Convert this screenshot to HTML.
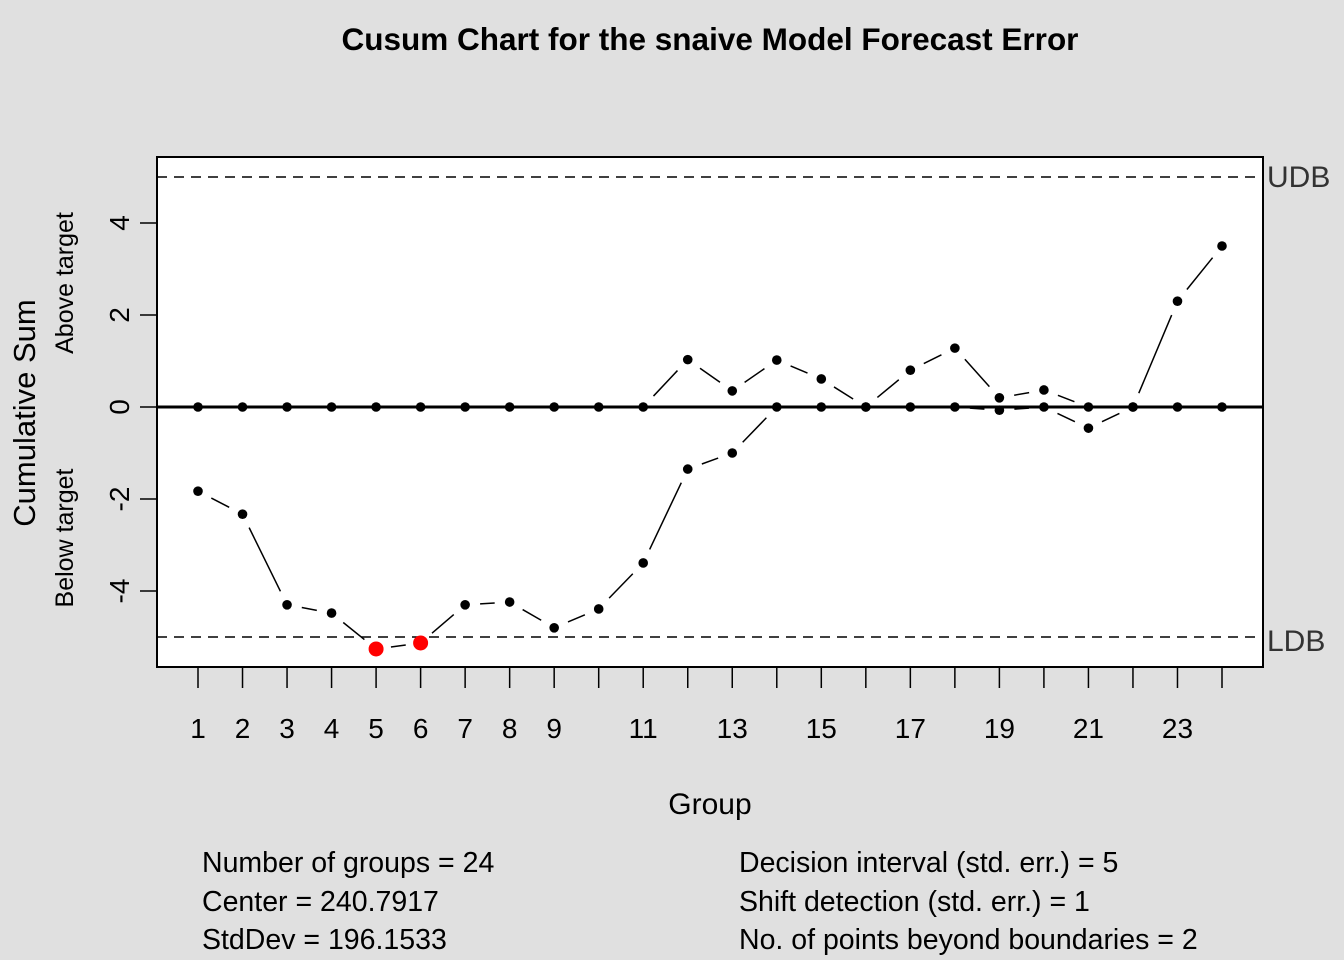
<!DOCTYPE html>
<html><head><meta charset="utf-8"><style>
body{margin:0;background:#e0e0e0;}
svg{display:block;font-family:"Liberation Sans",Arial,sans-serif;}
</style></head><body>
<svg id="chart" width="1344" height="960" viewBox="0 0 1344 960">
<rect width="1344" height="960" fill="#e0e0e0"/>
<text x="710" y="50" text-anchor="middle" font-size="31.5" font-weight="bold">Cusum Chart for the snaive Model Forecast Error</text>
<rect x="157" y="157" width="1106" height="510" fill="#fff" stroke="#000" stroke-width="2"/>
<g id="marks"></g>
<text transform="translate(35,413) rotate(-90)" text-anchor="middle" font-size="31">Cumulative Sum</text>
<text transform="translate(73,283) rotate(-90)" text-anchor="middle" font-size="25">Above target</text>
<text transform="translate(73,538) rotate(-90)" text-anchor="middle" font-size="25">Below target</text>
<text x="710" y="814" text-anchor="middle" font-size="30">Group</text>
<text x="1267" y="187" font-size="30" fill="#333">UDB</text>
<text x="1267" y="651" font-size="30" fill="#333">LDB</text>
<g font-size="28.5">
<text x="202" y="872">Number of groups = 24</text>
<text x="202" y="911">Center = 240.7917</text>
<text x="202" y="949">StdDev = 196.1533</text>
<text x="739" y="872">Decision interval (std. err.) = 5</text>
<text x="739" y="911">Shift detection (std. err.) = 1</text>
<text x="739" y="949">No. of points beyond boundaries = 2</text>
</g>
</svg>
<script>
const groups=[1,2,3,4,5,6,7,8,9,10,11,12,13,14,15,16,17,18,19,20,21,22,23,24];
const upper=[0,0,0,0,0,0,0,0,0,0,0,1.03,0.35,1.02,0.61,0,0.8,1.28,0.2,0.37,0,0,2.3,3.5];
const lower=[-1.83,-2.33,-4.3,-4.48,-5.26,-5.13,-4.3,-4.24,-4.8,-4.39,-3.39,-1.35,-1.0,0,0,0,0,0,-0.07,0,-0.46,0,0,0];
const yTicks=[-4,-2,0,2,4];
const xLabels=[1,2,3,4,5,6,7,8,9,11,13,15,17,19,21,23];
const udb=5, ldb=-5;
const NS='http://www.w3.org/2000/svg';
const g=document.getElementById('marks');
const X=v=>198+(v-1)*(1222-198)/23;
const Y=v=>407-v*46;
function mk(t,a){const e=document.createElementNS(NS,t);for(const k in a)e.setAttribute(k,a[k]);g.appendChild(e);return e;}
let e;
e=mk('line',{x1:157,x2:1263,y1:Y(udb),y2:Y(udb),stroke:'#000','stroke-width':1.5,'stroke-dasharray':'10,7'});


e=mk('line',{x1:157,x2:1263,y1:Y(ldb),y2:Y(ldb),stroke:'#000','stroke-width':1.5,'stroke-dasharray':'10,7'});


e=mk('line',{x1:157,x2:1263,y1:Y(0),y2:Y(0),stroke:'#000','stroke-width':3});


yTicks.forEach(t=>{
 e=mk('line',{x1:140,x2:157,y1:Y(t),y2:Y(t),stroke:'#000','stroke-width':1.5});
 
 
 e=mk('text',{transform:`translate(129,${Y(t)}) rotate(-90)`,'text-anchor':'middle','font-size':28});
 e.textContent=t;
 
 
});
groups.forEach(gr=>{
 e=mk('line',{x1:X(gr),x2:X(gr),y1:668,y2:688,stroke:'#000','stroke-width':1.5});
 
 
});
xLabels.forEach(l=>{
 e=mk('text',{x:X(l),y:738,'text-anchor':'middle','font-size':28});
 e.textContent=l;
 
 
});
function series(vals,name){
 for(let i=0;i<vals.length-1;i++){
  const x1=X(groups[i]),y1=Y(vals[i]),x2=X(groups[i+1]),y2=Y(vals[i+1]);
  const dx=x2-x1,dy=y2-y1,L=Math.hypot(dx,dy),gap=15;
  if(L>2*gap+2){
   e=mk('line',{x1:x1+dx*gap/L,y1:y1+dy*gap/L,x2:x2-dx*gap/L,y2:y2-dy*gap/L,stroke:'#000','stroke-width':1.5});
   
   
  }
 }
 vals.forEach((v,i)=>{
  const out=v>udb||v<ldb;
  e=mk('circle',{cx:X(groups[i]),cy:Y(v),r:out?7.5:4.8,fill:out?'#ff0000':'#000'});
  
  
 });
}
series(upper,'upper-cusum');
series(lower,'lower-cusum');
</script>
</body></html>
